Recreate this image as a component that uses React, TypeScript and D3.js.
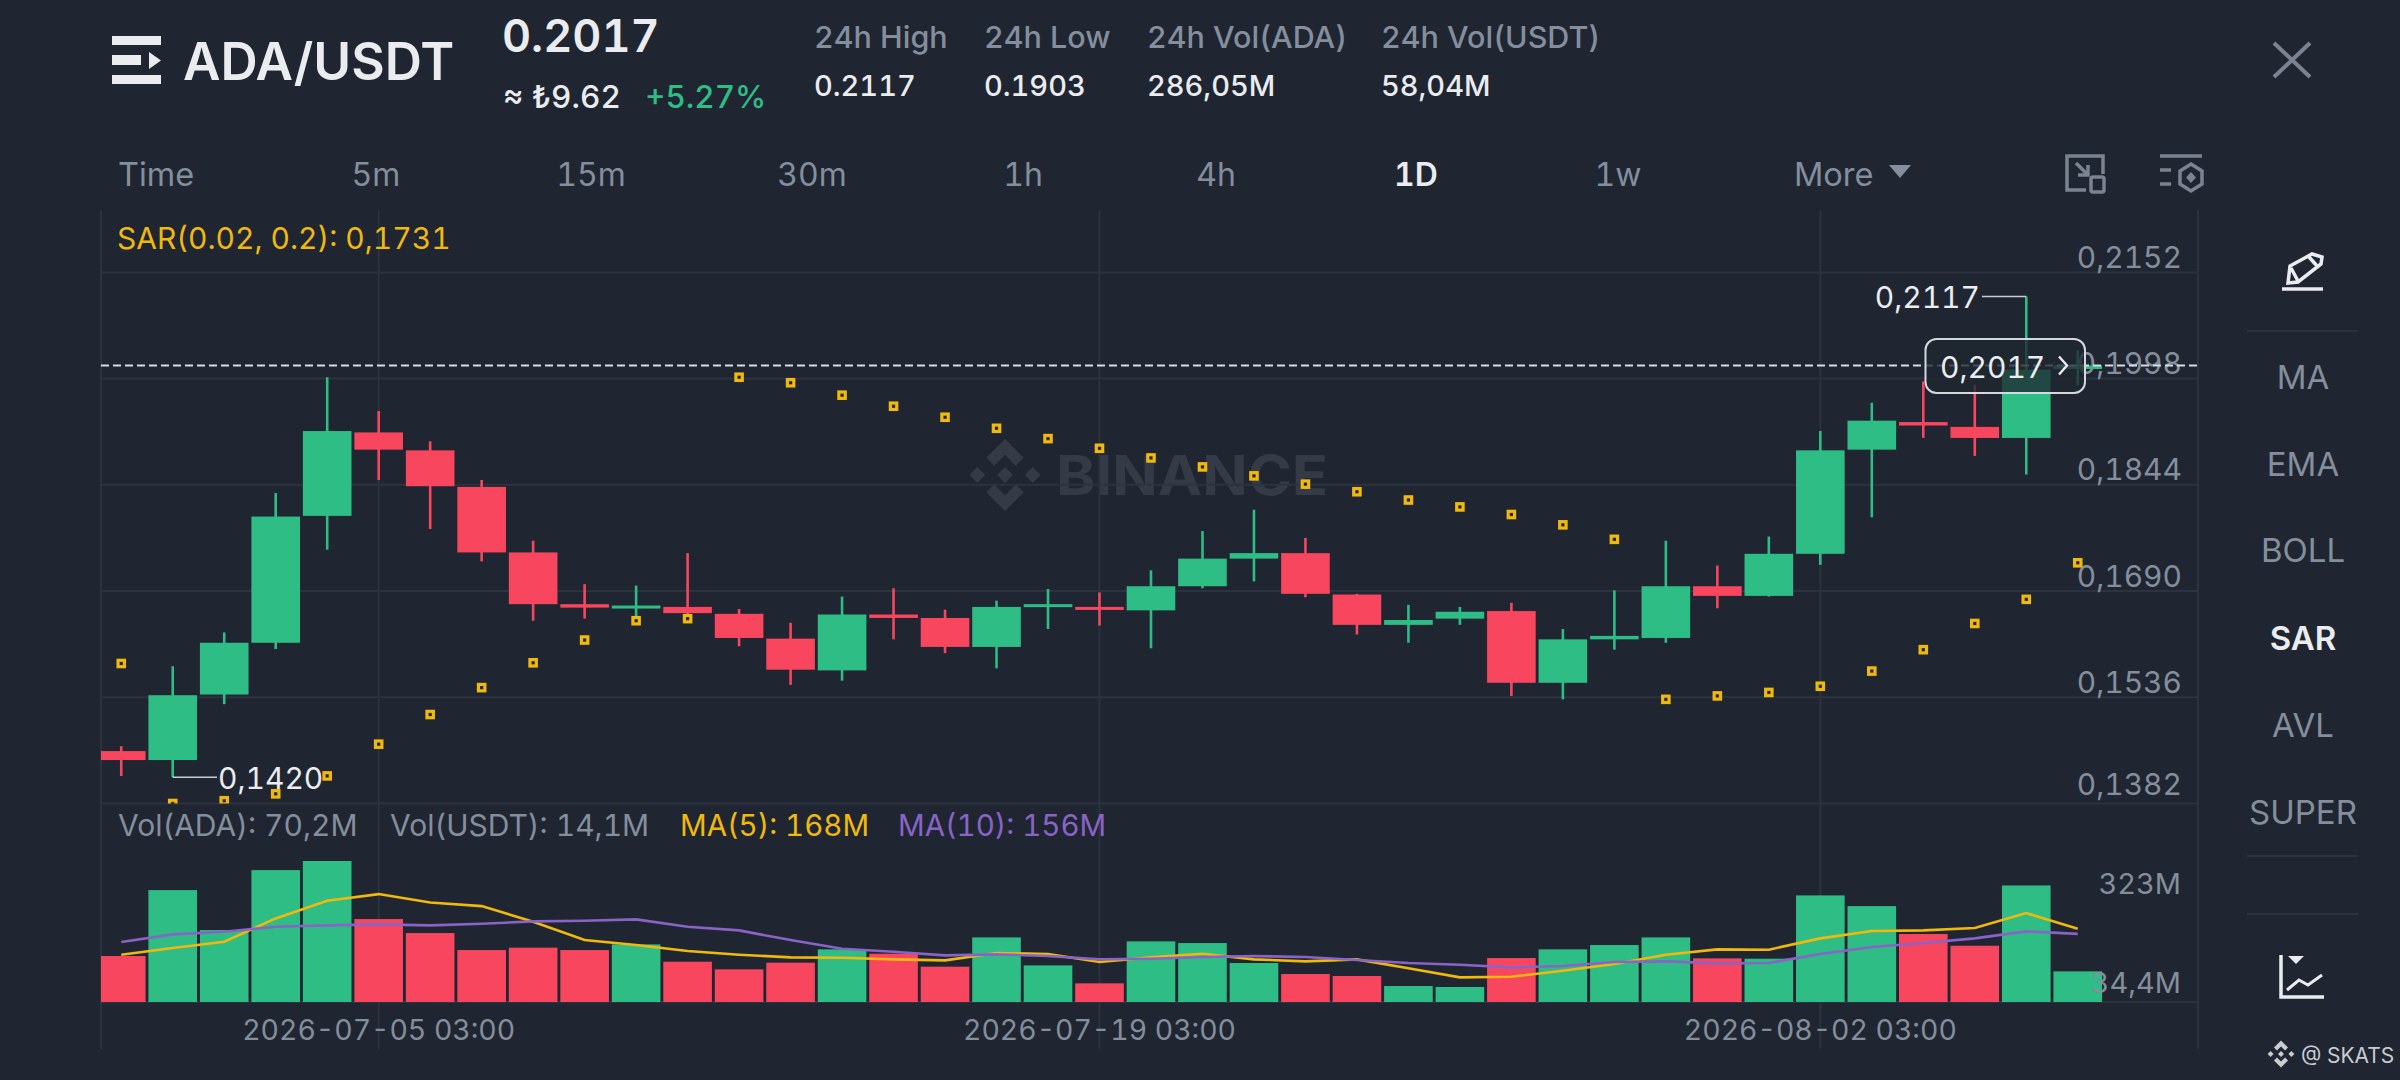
import React, { useEffect, useRef } from "react";
import * as d3 from "d3";

// candle days, 06-30 .. 08-07
const days = [
  "06-30", "07-01", "07-02", "07-03", "07-04", "07-05", "07-06", "07-07", "07-08", "07-09",
  "07-10", "07-11", "07-12", "07-13", "07-14", "07-15", "07-16", "07-17", "07-18", "07-19",
  "07-20", "07-21", "07-22", "07-23", "07-24", "07-25", "07-26", "07-27", "07-28", "07-29",
  "07-30", "07-31", "08-01", "08-02", "08-03", "08-04", "08-05", "08-06", "08-07",
];
const opens = [
  0.1458, 0.1445, 0.154, 0.1615, 0.1799, 0.192, 0.1894, 0.1841, 0.1746, 0.1671,
  0.1665, 0.1667, 0.1657, 0.1621, 0.1575, 0.1656, 0.1651, 0.1609, 0.1667, 0.1667,
  0.1662, 0.1697, 0.1737, 0.1745, 0.1685, 0.1641, 0.165, 0.1661, 0.1557, 0.162,
  0.1622, 0.1697, 0.1683, 0.1744, 0.1895, 0.1935, 0.1928, 0.1912, 0.2012,
];
const closes = [
  0.1445, 0.1539, 0.1615, 0.1798, 0.1922, 0.1895, 0.1842, 0.1746, 0.1671, 0.1666,
  0.1669, 0.1658, 0.1622, 0.1576, 0.1656, 0.1651, 0.1609, 0.1667, 0.1671, 0.1663,
  0.1697, 0.1737, 0.1745, 0.1686, 0.1641, 0.1648, 0.166, 0.1557, 0.162, 0.1625,
  0.1697, 0.1683, 0.1744, 0.1894, 0.1937, 0.193, 0.1912, 0.2011, 0.2017,
];
const highs = [
  0.1465, 0.1581, 0.163, 0.1832, 0.2, 0.1951, 0.1907, 0.1851, 0.1763, 0.17,
  0.1698, 0.1745, 0.1664, 0.1644, 0.1682, 0.1694, 0.1663, 0.1676, 0.1693, 0.1688,
  0.172, 0.1777, 0.1808, 0.1767, 0.1686, 0.167, 0.1667, 0.1673, 0.1635, 0.1691,
  0.1763, 0.1727, 0.1769, 0.1922, 0.1963, 0.1994, 0.1989, 0.2117, 0.2039,
];
const lows = [
  0.1422, 0.142, 0.1526, 0.1606, 0.175, 0.1851, 0.178, 0.1733, 0.1647, 0.165,
  0.1652, 0.1655, 0.161, 0.1554, 0.156, 0.162, 0.16, 0.1578, 0.1635, 0.164,
  0.1607, 0.1694, 0.1704, 0.1681, 0.1627, 0.1615, 0.1641, 0.1538, 0.1533, 0.1605,
  0.1615, 0.1665, 0.1682, 0.1728, 0.1797, 0.1912, 0.1886, 0.1859, 0.1988,
];
const sar = [
  0.1585, 0.1382, 0.1386, 0.1396, 0.1422, 0.1468, 0.1511, 0.155, 0.1586, 0.1619,
  0.1647, 0.165, 0.2, 0.1992, 0.1974, 0.1958, 0.1942, 0.1926, 0.1911, 0.1897,
  0.1883, 0.187, 0.1857, 0.1845, 0.1834, 0.1822, 0.1812, 0.1801, 0.1786, 0.1765,
  0.1533, 0.1538, 0.1543, 0.1552, 0.1574, 0.1605, 0.1643, 0.1678, 0.1731,
];
// volume in millions of ADA
const volumes = [
  105.3, 256.4, 164.8, 302.1, 323, 190, 157.9, 119, 124.4, 119,
  132, 92.3, 74.8, 90, 120.6, 110.6, 80.9, 148, 83.9, 42.7,
  138.9, 135, 89.3, 64.1, 59.5, 36.6, 34.4, 100.7, 120.6, 130.5,
  148, 100, 99.2, 244.2, 219.7, 155.7, 128.9, 267, 70.2,
];
const ma5 = [
  108.3, 123.6, 138.1, 191.5, 232, 247.2, 228.1, 219.7, 183.9, 141.9,
  130.5, 116.7, 108.3, 102.2, 101.5, 97.7, 95.4, 112.2, 109.9, 91.6,
  102.2, 110.6, 97.7, 93.1, 97.7, 77.1, 56.5, 58, 71.7, 87,
  108.3, 120.6, 119.8, 145.7, 162.5, 164, 169.4, 203.7, 168,
];
const ma10 = [
  137.3, 154.9, 161, 172.4, 175.5, 177.8, 175.5, 179.3, 184.6, 186.2,
  189.2, 172.4, 164, 141.9, 122.1, 115.2, 106.8, 109.1, 105.3, 97.7,
  99.2, 103, 105.3, 103, 96.1, 89.3, 85.5, 79.4, 82.4, 91.6,
  93.1, 88.5, 89.3, 109.9, 125.9, 135, 145.7, 161.8, 156,
];

const priceTicks = [0.2152, 0.1998, 0.1844, 0.169, 0.1536, 0.1382];
const volTicks = [323, 34.4];
const dateTicks = ["07-05", "07-19", "08-02"];
const lastPrice = 0.2017;
const highMark = { day: "08-06", price: 0.2117 };
const lowMark = { day: "07-01", price: 0.142 };

const intervals = ["5m", "15m", "30m", "1h", "4h", "1D", "1w"];
const indicators = ["MA", "EMA", "BOLL", "SAR", "AVL", "SUPER"];
const stats = [
  { title: "24h High", value: "0.2117" },
  { title: "24h Low", value: "0.1903" },
  { title: "24h Vol(ADA)", value: "286,05M" },
  { title: "24h Vol(USDT)", value: "58,04M" },
];

const BG = "#1f2631";
const GRID = "#2c333e";
const GREEN = "#2ebd85";
const RED = "#f9465f";
const GOLD = "#f0b90b";
const PURPLE = "#8a63c6";
const GREY = "#848e9c";
const WHITE = "#eaecef";
const FONT = "Inter, 'Noto Sans', sans-serif";

const commaPrice = (v: number) => d3.format(".4f")(v).replace(".", ",");

// binance mark, unit radius
const logoParts = [
  "M0,-1L.52,-.48L.3,-.26L0,-.56L-.3,-.26L-.52,-.48Z",
  "M0,1L.52,.48L.3,.26L0,.56L-.3,.26L-.52,.48Z",
  "M0,-.22L.22,0L0,.22L-.22,0Z",
  "M-.77,-.22L-.55,0L-.77,.22L-.99,0Z",
  "M.77,-.22L.99,0L.77,.22L.55,0Z",
];

const App: React.FC = () => {
  const ref = useRef<SVGSVGElement>(null);

  useEffect(() => {
    const svg = d3.select(ref.current);
    svg.selectAll("*").remove();
    svg.attr("font-family", FONT).style("font-variant-numeric", "tabular-nums");

    const left = 101;
    const right = 2198;
    const chartTop = 210;
    const chartBottom = 1049;
    const paneBottom = 803.5;
    const volBase = 1002;

    const x = d3.scaleBand<string>().domain(days).range([95.5, 2103.5]).paddingInner(0.056).paddingOuter(0.028);
    const cx = (d: string) => (x(d) as number) + x.bandwidth() / 2;
    const y = d3.scaleLinear().domain([0.1382, 0.2152]).range([paneBottom, 272.4]);
    const yVol = d3.scaleLinear().domain([0, 323]).range([volBase, 861]);
    const yVolLabel = d3.scaleLinear().domain([34.4, 323]).range([992.7, 894]);

    svg.append("rect").attr("width", 2400).attr("height", 1080).attr("fill", BG);

    const defs = svg.append("defs");
    defs.append("clipPath").attr("id", "pane").append("rect")
      .attr("x", left).attr("y", chartTop).attr("width", right - left).attr("height", paneBottom - chartTop);
    defs.append("clipPath").attr("id", "volpane").append("rect")
      .attr("x", left).attr("y", paneBottom).attr("width", right - left).attr("height", volBase - paneBottom);

    // header
    const menu = svg.append("g").attr("fill", WHITE);
    menu.append("rect").attr("x", 112).attr("y", 36).attr("width", 49).attr("height", 9);
    menu.append("rect").attr("x", 112).attr("y", 55).attr("width", 29).attr("height", 10);
    menu.append("path").attr("d", "M149,52L161,60.5L149,69Z");
    menu.append("rect").attr("x", 112).attr("y", 75).attr("width", 49).attr("height", 9);

    const text = (
      g: d3.Selection<any, any, any, any>,
      str: string, tx: number, ty: number, size: number, fill: string,
      weight = 400, anchor = "start",
    ) =>
      g.append("text").attr("x", tx).attr("y", ty).attr("font-size", size).attr("fill", fill)
        .attr("font-weight", weight).attr("text-anchor", anchor).text(str);

    text(svg, "ADA/USDT", 183, 80, 51.5, WHITE, 600);
    text(svg, "0.2017", 502, 52, 45, WHITE, 600);
    text(svg, "≈ ₺9.62", 503, 108, 31.5, WHITE, 500);
    text(svg, "+5.27%", 645, 108, 31.5, GREEN, 500);

    const statX = [814, 984, 1147, 1381];
    stats.forEach((s, i) => {
      text(svg, s.title, statX[i], 48, 30.5, GREY, 500);
      text(svg, s.value, statX[i], 96, 29, WHITE, 500);
    });

    svg.append("path").attr("d", "M2274,43L2310,77M2310,43L2274,77")
      .attr("stroke", "#7b8391").attr("stroke-width", 4).attr("fill", "none");

    // interval row
    text(svg, "Time", 118, 186, 32.5, GREY);
    const intervalX = [376, 591, 812, 1023, 1216, 1416, 1618];
    intervals.forEach((t, i) => {
      text(svg, t, intervalX[i], 186, 32, t === "1D" ? WHITE : GREY, t === "1D" ? 600 : 400, "middle");
    });
    text(svg, "More", 1794, 186, 32.5, GREY);
    svg.append("path").attr("d", "M1889,165H1911L1900,178Z").attr("fill", GREY);

    const icons = svg.append("g").attr("fill", "none").attr("stroke", "#7b8391").attr("stroke-width", 3.5);
    icons.append("path").attr("d", "M2067,190V156H2103V174M2067,174V190H2086");
    icons.append("rect").attr("x", 2091).attr("y", 177).attr("width", 13).attr("height", 15).attr("rx", 2);
    icons.append("path").attr("d", "M2076,163L2088,175M2088,165V175H2078");
    icons.append("path").attr("d", "M2160,156H2202M2160,170H2171M2160,184H2171");
    icons.append("path").attr("d", "M2191,164L2202,171V184L2191,191L2180,184V171Z");
    icons.append("path").attr("d", "M2191,172L2196,177.5L2191,183L2186,177.5Z").attr("fill", "#7b8391").attr("stroke", "none");

    // watermark
    const mark = svg.append("g").attr("fill", "#343b47");
    mark.append("g").attr("transform", "translate(1005,475) scale(36,36)")
      .selectAll("path").data(logoParts).join("path").attr("d", (d) => d);
    mark.append("text").attr("x", 1056).attr("y", 495).attr("font-size", 55).attr("font-weight", 700)
      .attr("textLength", 272).attr("lengthAdjust", "spacingAndGlyphs").text("BINANCE");

    // grid + frame
    const grid = svg.append("g").attr("stroke", GRID).attr("stroke-width", 2);
    grid.selectAll("line.h").data(priceTicks).join("line").attr("class", "h")
      .attr("x1", left).attr("x2", right).attr("y1", (d) => y(d)).attr("y2", (d) => y(d));
    grid.append("line").attr("x1", left).attr("x2", right).attr("y1", volBase).attr("y2", volBase);
    grid.selectAll("line.v").data(dateTicks).join("line").attr("class", "v")
      .attr("x1", (d) => cx(d)).attr("x2", (d) => cx(d)).attr("y1", chartTop).attr("y2", chartBottom);
    grid.selectAll("line.f").data([left, right]).join("line").attr("class", "f")
      .attr("x1", (d) => d).attr("x2", (d) => d).attr("y1", chartTop).attr("y2", chartBottom);

    // price labels, the lowest one sits a little higher
    const priceAxis = svg.append("g").attr("transform", `translate(2182,0)`)
      .call(d3.axisLeft(y).tickValues(priceTicks).tickSize(0).tickPadding(0).tickFormat((d) => commaPrice(+d)));
    priceAxis.select(".domain").remove();
    priceAxis.selectAll<SVGTextElement, number>("text").attr("font-size", 30).attr("font-family", FONT).attr("fill", GREY)
      .attr("dy", (d) => (d === 0.1382 ? -9 : -5)).attr("dominant-baseline", "auto");

    // volume bars
    svg.append("g").attr("clip-path", "url(#volpane)")
      .selectAll("rect").data(days).join("rect")
      .attr("x", (d) => x(d) as number)
      .attr("width", x.bandwidth())
      .attr("y", (_, i) => yVol(volumes[i]))
      .attr("height", (_, i) => volBase - yVol(volumes[i]))
      .attr("fill", (_, i) => (closes[i] >= opens[i] ? GREEN : RED));

    // volume axis labels
    svg.append("g").selectAll("text").data(volTicks).join("text")
      .attr("x", 2181).attr("y", (d) => yVolLabel(d))
      .attr("text-anchor", "end").attr("font-size", 29).attr("fill", GREY)
      .text((d) => (d < 100 ? `${String(d).replace(".", ",")}M` : `${d}M`));

    // ma lines
    const maLine = d3.line<number>().x((_, i) => cx(days[i])).y((d) => yVol(d));
    svg.append("path").attr("d", maLine(ma5)).attr("fill", "none").attr("stroke", GOLD).attr("stroke-width", 2.6);
    svg.append("path").attr("d", maLine(ma10)).attr("fill", "none").attr("stroke", PURPLE).attr("stroke-width", 2.6);

    // candles
    const pane = svg.append("g").attr("clip-path", "url(#pane)");
    const color = (i: number) => (closes[i] >= opens[i] ? GREEN : RED);
    pane.append("g").selectAll("line").data(days).join("line")
      .attr("x1", (d) => cx(d)).attr("x2", (d) => cx(d))
      .attr("y1", (_, i) => y(highs[i])).attr("y2", (_, i) => y(lows[i]))
      .attr("stroke", (_, i) => color(i)).attr("stroke-width", 2.6);
    pane.append("g").selectAll("rect").data(days).join("rect")
      .attr("x", (d) => x(d) as number).attr("width", x.bandwidth())
      .attr("y", (_, i) => y(Math.max(opens[i], closes[i])))
      .attr("height", (_, i) => Math.max(3, Math.abs(y(opens[i]) - y(closes[i]))))
      .attr("fill", (_, i) => color(i));

    // sar dots
    pane.append("g").selectAll("rect").data(sar).join("rect")
      .attr("x", (_, i) => cx(days[i]) - 3.2).attr("y", (d) => y(d) - 3.2)
      .attr("width", 6.4).attr("height", 6.4)
      .attr("fill", BG).attr("stroke", GOLD).attr("stroke-width", 3.2);

    // current price line
    svg.append("line").attr("x1", left).attr("x2", right).attr("y1", y(lastPrice)).attr("y2", y(lastPrice))
      .attr("stroke", "#d8dbe0").attr("stroke-width", 2).attr("stroke-dasharray", "8 4");

    // high / low marks
    const markLine = svg.append("g").attr("stroke", "#c9ccd2").attr("stroke-width", 1.6);
    markLine.append("line").attr("x1", 1982).attr("x2", cx(highMark.day)).attr("y1", y(highMark.price)).attr("y2", y(highMark.price));
    markLine.append("line").attr("x1", cx(lowMark.day)).attr("x2", 217).attr("y1", y(lowMark.price)).attr("y2", y(lowMark.price));
    text(svg, commaPrice(highMark.price), 1980, y(highMark.price) + 11, 30, WHITE, 400, "end");
    text(svg, commaPrice(lowMark.price), 218, y(lowMark.price) + 12, 30, WHITE);

    // last price box
    svg.append("rect").attr("x", 1925.5).attr("y", y(lastPrice) - 26.5).attr("width", 159.5).attr("height", 54).attr("rx", 11)
      .attr("fill", BG).attr("fill-opacity", 0.78).attr("stroke", "#d5d8dd").attr("stroke-width", 2);
    text(svg, commaPrice(lastPrice), 1940, y(lastPrice) + 12, 30, WHITE);
    svg.append("path").attr("d", `M2059,${y(lastPrice) - 9}L2067,${y(lastPrice)}L2059,${y(lastPrice) + 9}`)
      .attr("fill", "none").attr("stroke", WHITE).attr("stroke-width", 2.4);

    // legends
    text(svg, "SAR(0.02, 0.2): 0,1731", 117, 249, 30, GOLD);
    text(svg, "Vol(ADA): 70,2M", 118, 836, 30, GREY);
    text(svg, "Vol(USDT): 14,1M", 390, 836, 30, GREY);
    text(svg, "MA(5): 168M", 680, 836, 29.5, GOLD);
    text(svg, "MA(10): 156M", 898, 836, 29.5, PURPLE);

    // date labels
    svg.append("g").selectAll("text").data(dateTicks).join("text")
      .attr("x", (d) => cx(d)).attr("y", 1040).attr("text-anchor", "middle")
      .attr("font-size", 28.4).attr("fill", GREY).text((d) => `2026-${d} 03:00`);

    // right panel
    const side = svg.append("g");
    const indicatorY = [377, 464, 550, 638, 725, 812];
    indicators.forEach((t, i) => {
      text(side, t, 2303, indicatorY[i] + 12, 33, t === "SAR" ? WHITE : GREY, t === "SAR" ? 600 : 400, "middle");
    });
    side.selectAll("line").data([331, 856, 914]).join("line")
      .attr("x1", 2247).attr("x2", 2358).attr("y1", (d) => d).attr("y2", (d) => d)
      .attr("stroke", GRID).attr("stroke-width", 2);

    // pencil
    const pen = side.append("g").attr("fill", "none").attr("stroke", WHITE).attr("stroke-width", 3.5);
    pen.append("path").attr("d", "M2290,266L2312,254L2322,257L2321,264L2298,282L2288,283Z");
    pen.append("path").attr("d", "M2309,257L2318,267M2291,268L2298,281");
    pen.append("line").attr("x1", 2282).attr("x2", 2323).attr("y1", 289).attr("y2", 289);

    // chart icon
    const lineIcon = side.append("g").attr("fill", "none").attr("stroke", WHITE).attr("stroke-width", 3.5);
    lineIcon.append("path").attr("d", "M2281,955V997H2324");
    lineIcon.append("path").attr("d", "M2287,990L2299,980L2308,985L2322,975").attr("stroke-width", 3);
    side.append("path").attr("d", "M2288,956H2304L2296,964Z").attr("fill", WHITE);

    // footer badge
    side.append("g").attr("transform", "translate(2281,1054) scale(13.5,13.5)").attr("fill", "#c8ccd3")
      .selectAll("path").data(logoParts).join("path").attr("d", (d) => d);
    text(side, "@ SKATS", 2301, 1063, 21, "#c8ccd3");
  }, []);

  return <svg ref={ref} width={2400} height={1080} style={{ position: "absolute", left: 0, top: 0, display: "block" }} />;
};

export default App;
